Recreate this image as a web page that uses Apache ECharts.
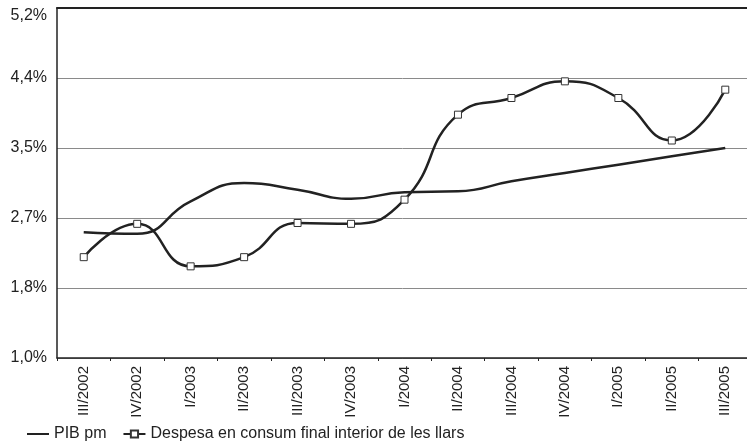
<!DOCTYPE html>
<html>
<head>
<meta charset="utf-8">
<script src="https://cdn.jsdelivr.net/npm/echarts@6/dist/echarts.min.js"></script>
<style>
  html, body { margin: 0; padding: 0; background: #fff; }
  #chart { width: 747px; height: 444px; }
</style>
</head>
<body>
<div id="chart"></div>
<script>
// trimestres
const quarters = ['III/2002', 'IV/2002', 'I/2003', 'II/2003', 'III/2003', 'IV/2003',
  'I/2004', 'II/2004', 'III/2004', 'IV/2004', 'I/2005', 'II/2005', 'III/2005']
// PIB pm (%)
const pib = [2.51, 2.49, 2.88, 3.10, 3.02, 2.91, 2.99, 3.00, 3.12, 3.22, 3.32, 3.42, 3.52]
// Despesa en consum final interior de les llars (%)
const despesa = [2.21, 2.61, 2.10, 2.21, 2.62, 2.61, 2.90, 3.92, 4.12, 4.32, 4.12, 3.61, 4.22]
// eix Y
const yMin = 1.0
const yMax = 5.2
const yStep = 0.84

const font = 'Liberation Sans, Arial, sans-serif'
const chart = echarts.init(document.getElementById('chart'))

const option = {
  animation: false,
  textStyle: { fontFamily: font },
  grid: { left: 57, width: 695, top: 8, bottom: 86, outerBoundsMode: 'none' },
  legend: {
    left: 21,
    top: 421,
    itemWidth: 22,
    itemHeight: 9,
    itemGap: 16,
    textStyle: { fontSize: 16, color: '#222', fontFamily: font },
    data: [
      // sense marcador a la llegenda del PIB
      { name: 'PIB pm', itemStyle: { color: 'rgba(0,0,0,0)', borderColor: 'rgba(0,0,0,0)', borderWidth: 0 } },
      'Despesa en consum final interior de les llars'
    ]
  },
  xAxis: [{
    type: 'category',
    data: quarters,
    boundaryGap: true,
    axisLine: { lineStyle: { color: '#222', width: 1.5 } },
    axisTick: { show: true, length: 3, lineStyle: { color: '#222' } },
    axisLabel: { rotate: 90, fontSize: 15, color: '#222', margin: 8 }
  }, {
    // línia superior del marc
    type: 'category',
    data: quarters,
    position: 'top',
    axisLine: { lineStyle: { color: '#222', width: 2 } },
    axisTick: { show: false },
    axisLabel: { show: false }
  }],
  yAxis: {
    type: 'value',
    min: yMin,
    max: yMax,
    interval: yStep,
    axisLine: { show: true, lineStyle: { color: '#222', width: 1.5 } },
    axisTick: { show: false },
    splitLine: { lineStyle: { color: '#8a8a8a', width: 1 } },
    axisLabel: {
      fontSize: 16,
      color: '#222',
      margin: 10,
      verticalAlignMaxLabel: 'top',
      formatter: v => v.toFixed(1).replace('.', ',') + '%'
    }
  },
  series: [{
    name: 'PIB pm',
    type: 'line',
    data: pib,
    smooth: 0.5,
    symbol: 'none',
    lineStyle: { color: '#222', width: 2.5 },
    itemStyle: { color: '#222' }
  }, {
    name: 'Despesa en consum final interior de les llars',
    type: 'line',
    data: despesa,
    smooth: 0.5,
    symbol: 'rect',
    symbolSize: 7,
    showAllSymbol: true,
    lineStyle: { color: '#222', width: 2.5 },
    itemStyle: { color: '#fff', borderColor: '#333', borderWidth: 1 }
  }]
}
chart.setOption(option)
</script>
</body>
</html>
